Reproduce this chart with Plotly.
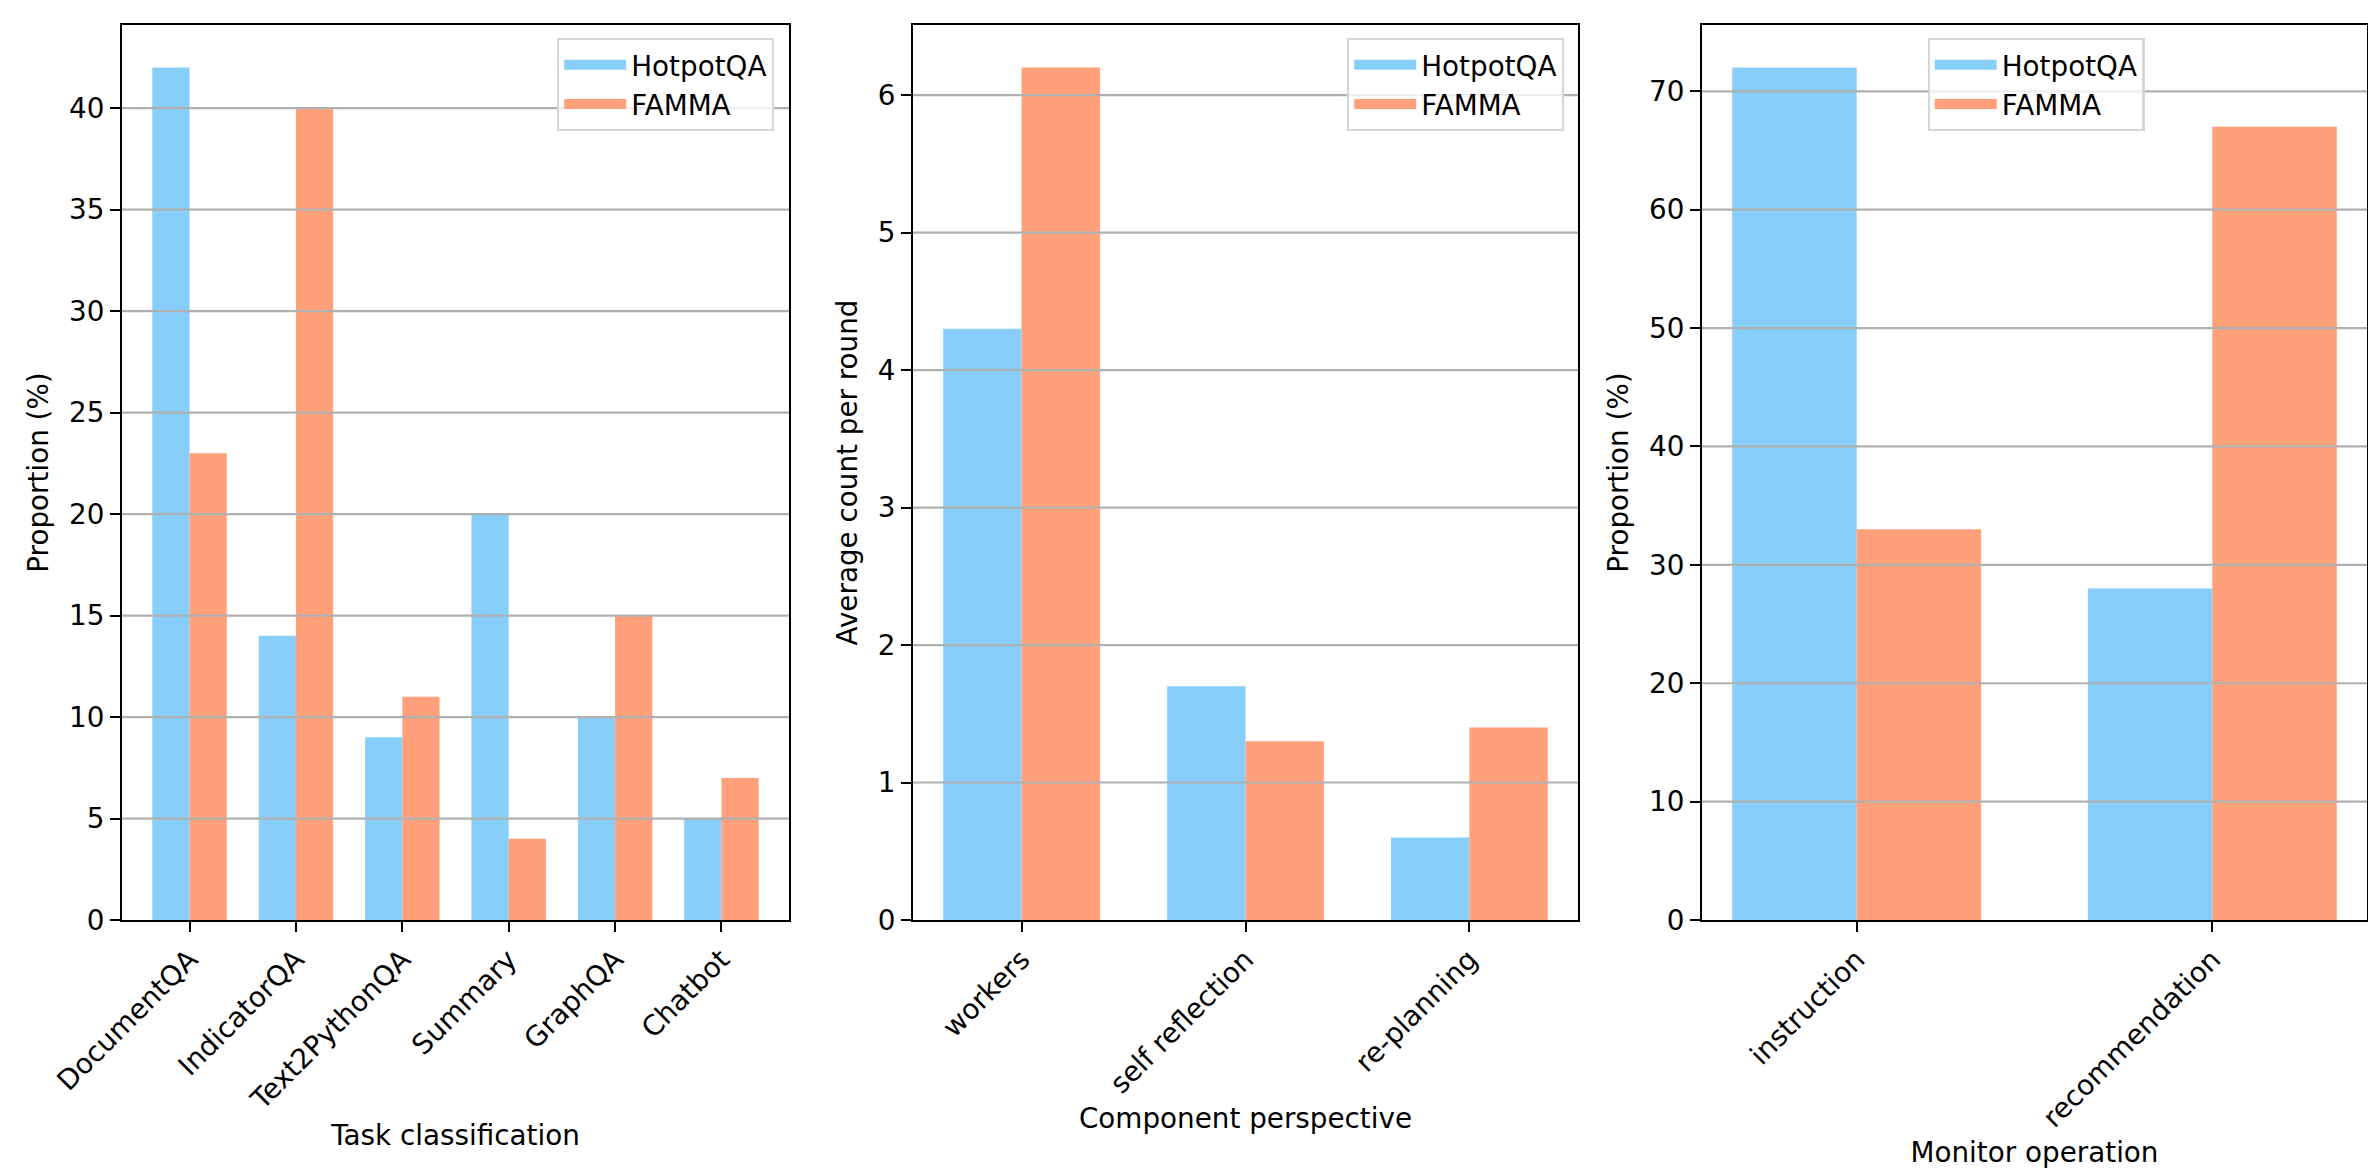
import plotly.graph_objects as go

# ---------------- data ----------------
series_names = ["HotpotQA", "FAMMA"]
series_colors = ["#87CEFA", "#FFA07A"]

task_categories = ["DocumentQA", "IndicatorQA", "Text2PythonQA", "Summary", "GraphQA", "Chatbot"]
task_hotpotqa = [42, 14, 9, 20, 10, 5]
task_famma = [23, 40, 11, 4, 15, 7]
task_yticks = [0, 5, 10, 15, 20, 25, 30, 35, 40]

component_categories = ["workers", "self reflection", "re-planning"]
component_hotpotqa = [4.3, 1.7, 0.6]
component_famma = [6.2, 1.3, 1.4]
component_yticks = [0, 1, 2, 3, 4, 5, 6]

monitor_categories = ["instruction", "recommendation"]
monitor_hotpotqa = [72, 28]
monitor_famma = [33, 67]
monitor_yticks = [0, 10, 20, 30, 40, 50, 60, 70]

x_titles = ["Task classification", "Component perspective", "Monitor operation"]
y_titles = ["Proportion (%)", "Average count per round", "Proportion (%)"]

# ---------------- layout constants ----------------
W, H = 2376, 1170
FONT = "DejaVu Sans"
FS = 27.8
LW = 2.2
GRID = "#b0b0b0"
x_domains = [[114 / W, 781 / W], [905 / W, 1570 / W], [1694 / W, 2359 / W]]
y_domain = [1 - 912 / H, 1 - 17 / H]

panels = [
    (task_categories, task_hotpotqa, task_famma, task_yticks),
    (component_categories, component_hotpotqa, component_famma, component_yticks),
    (monitor_categories, monitor_hotpotqa, monitor_famma, monitor_yticks),
]

legend_pos = [
    dict(x=766 / W, xanchor="right"),
    dict(x=1556 / W, xanchor="right"),
    dict(x=2028 / W, xanchor="center"),
]

fig = go.Figure()
layout = dict(
    width=W, height=H,
    margin=dict(l=0, r=0, t=0, b=0),
    paper_bgcolor="white", plot_bgcolor="white",
    font=dict(family=FONT, size=FS, color="black"),
    barmode="group", bargap=0.3, bargroupgap=0,
    shapes=[],
)

for i, (cats, hot, fam, yticks) in enumerate(panels):
    sfx = "" if i == 0 else str(i + 1)
    xa, ya = "x" + sfx, "y" + sfx
    leg = "legend" + sfx
    for name, vals, col in zip(series_names, [hot, fam], series_colors):
        fig.add_trace(go.Bar(
            x=cats, y=vals, name=name, marker=dict(color=col, line=dict(width=0)),
            xaxis=xa, yaxis=ya, showlegend=False,
        ))
    # legend entries drawn as wide colour patches
    for name, col in zip(series_names, series_colors):
        fig.add_trace(go.Scatter(
            x=[None], y=[None], mode="lines", name=name,
            line=dict(color=col, width=19),
            xaxis=xa, yaxis=ya, legend=leg, showlegend=True, hoverinfo="skip",
        ))
    n = len(cats)
    ymax = max(max(hot), max(fam)) * 1.05
    layout["xaxis" + sfx] = dict(
        domain=x_domains[i], anchor=ya, type="category",
        categoryorder="array", categoryarray=cats,
        range=[-0.35 - 0.05 * (n - 0.3), n - 1 + 0.35 + 0.05 * (n - 0.3)],
        showline=True, linecolor="black", linewidth=LW, mirror=True,
        ticks="outside", ticklen=10, tickwidth=LW, tickcolor="black",
        tickangle=-45, tickfont=dict(size=FS, family=FONT),
        showgrid=False, zeroline=False, automargin=False,
        title=dict(text=x_titles[i], font=dict(size=FS, family=FONT), standoff=10),
    )
    layout["yaxis" + sfx] = dict(
        domain=y_domain, anchor=xa, range=[0, ymax],
        tickvals=yticks,
        showline=True, linecolor="black", linewidth=LW, mirror=True,
        ticks="outside", ticklen=10, tickwidth=LW, tickcolor="black",
        tickfont=dict(size=FS, family=FONT),
        showgrid=False, zeroline=False, automargin=False,
        title=dict(text=y_titles[i], font=dict(size=FS, family=FONT), standoff=12),
    )
    for v in yticks:
        if v <= 0:
            continue
        layout["shapes"].append(dict(
            type="line", xref=xa + " domain", yref=ya, x0=0, x1=1, y0=v, y1=v,
            line=dict(color=GRID, width=LW), layer="above",
        ))
    layout[leg] = dict(
        y=1 - 30 / H, yanchor="top", **legend_pos[i],
        bgcolor="rgba(255,255,255,0.8)", bordercolor="#d6d6d6", borderwidth=LW,
        font=dict(size=FS, family=FONT), itemwidth=62,
    )

fig.update_layout(**layout)
fig.write_html("out.html")
